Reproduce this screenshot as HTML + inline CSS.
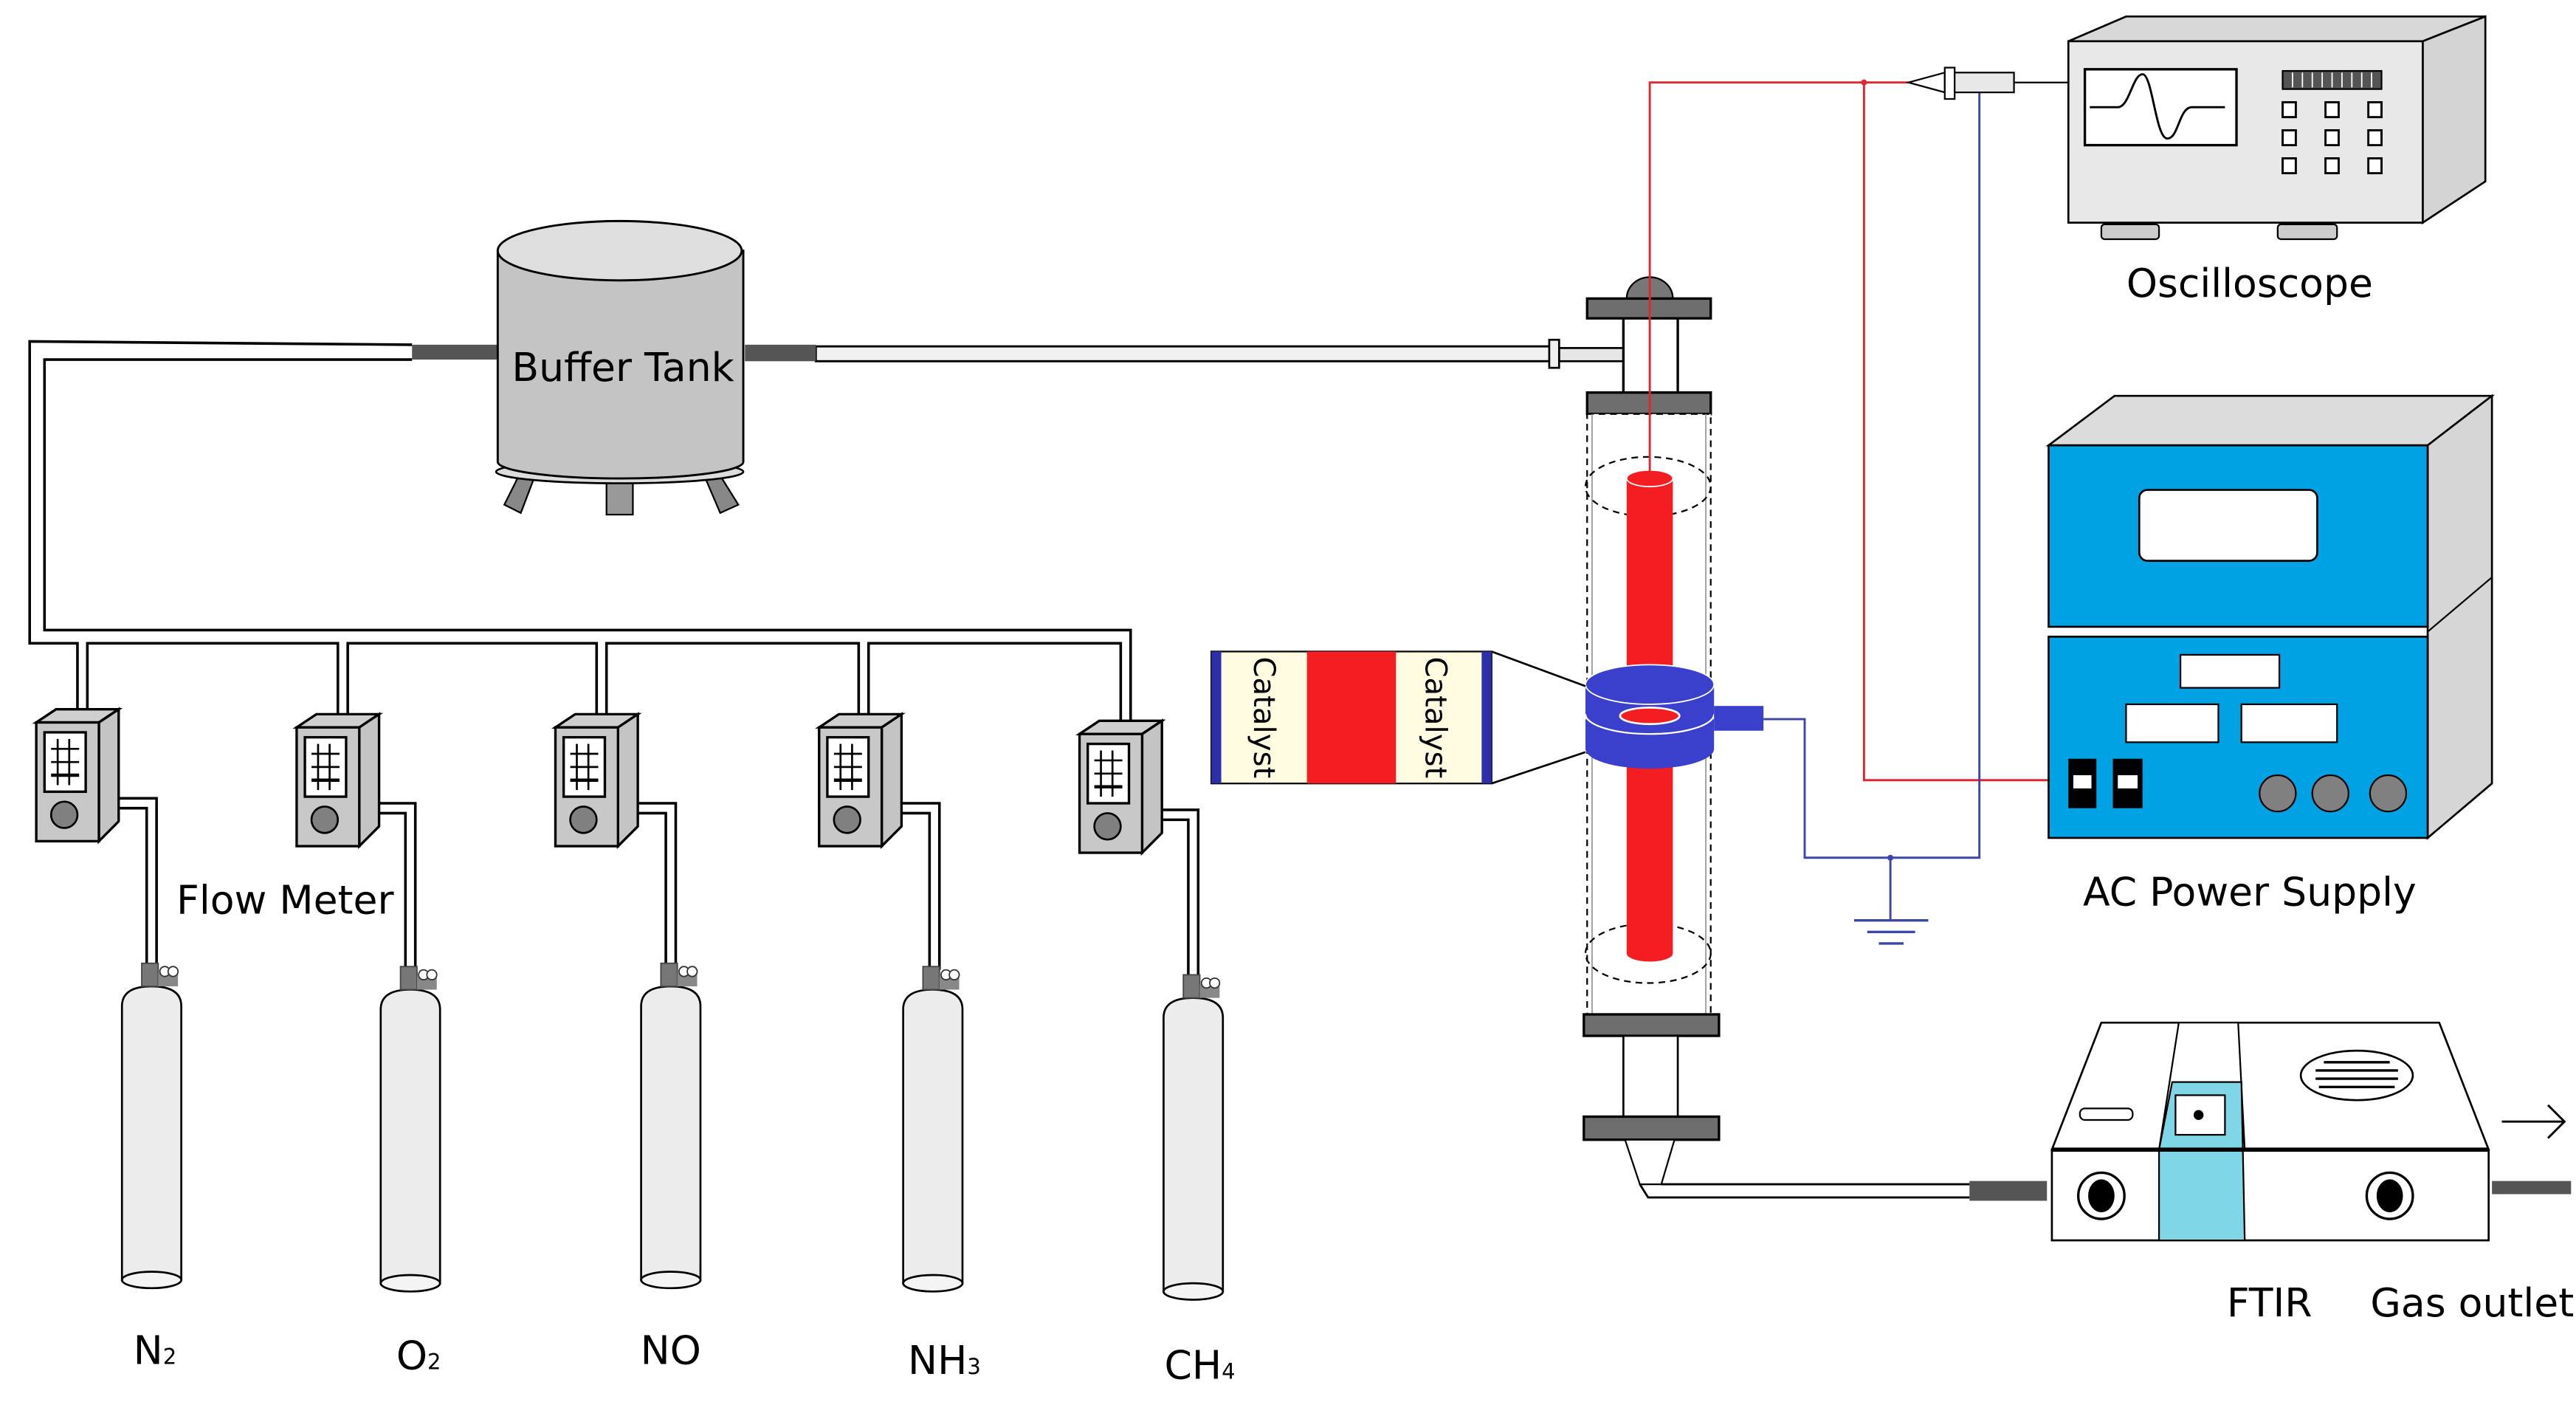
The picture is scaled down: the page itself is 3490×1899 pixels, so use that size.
<!DOCTYPE html>
<html><head><meta charset="utf-8"><style>html,body{margin:0;padding:0;background:#fff}svg{display:block}</style></head>
<body>
<svg width="3490" height="1899" viewBox="0 0 1563 850" preserveAspectRatio="none" xmlns="http://www.w3.org/2000/svg" font-family="'DejaVu Sans','Liberation Sans',sans-serif">
<defs>
<g id="fm">
  <polygon points="0,8 12,0 50,0 38,8" fill="#cfcfcf" stroke="#000" stroke-width="1.5"/>
  <polygon points="38,8 50,0 50,68 38,80" fill="#c4c4c4" stroke="#000" stroke-width="1.5"/>
  <rect x="0" y="8" width="38" height="72" fill="#c8c8c8" stroke="#000" stroke-width="1.5"/>
  <rect x="5" y="14" width="25" height="36" fill="#fff" stroke="#000" stroke-width="1.5"/>
  <line x1="13" y1="18" x2="13" y2="46" stroke="#000" stroke-width="1.2"/>
  <line x1="20" y1="18" x2="20" y2="46" stroke="#000" stroke-width="1.2"/>
  <line x1="9" y1="24" x2="26" y2="24" stroke="#000" stroke-width="1.2"/>
  <line x1="9" y1="32" x2="26" y2="32" stroke="#000" stroke-width="1.2"/>
  <line x1="9" y1="40" x2="26" y2="40" stroke="#000" stroke-width="2"/>
  <circle cx="17" cy="64" r="8" fill="#808080" stroke="#000" stroke-width="1.2"/>
</g>
<g id="cyl">
  <path d="M0,12 Q0,0 18,0 Q36,0 36,12 L36,178 L0,178 Z" fill="#ececec" stroke="#000" stroke-width="1.2"/>
  <ellipse cx="18" cy="178" rx="18" ry="5" fill="#f4f4f4" stroke="#000" stroke-width="1.2"/>
  <rect x="12" y="-14" width="10" height="14" fill="#777" stroke="#444" stroke-width="0.8"/>
  <rect x="22" y="-8" width="12" height="8" fill="#888"/>
  <circle cx="26" cy="-9" r="3" fill="#fff" stroke="#333" stroke-width="0.8"/>
  <circle cx="31" cy="-9" r="3" fill="#fff" stroke="#333" stroke-width="0.8"/>
</g>
</defs>

<!-- gas lines -->
<g fill="none" stroke="#000" stroke-width="1.6">
  <polyline points="250,209 18,207 18,390 47,390 47,432"/>
  <polyline points="250,218 27,218 27,382 686,382 686,440"/>
  <polyline points="53,432 53,390 205,390 205,435"/>
  <polyline points="211,435 211,390 362,390 362,435"/>
  <polyline points="368,435 368,390 521,390 521,435"/>
  <polyline points="527,435 527,390 680,390 680,440"/>
  <polyline points="72,484 95,484 95,586"/>
  <polyline points="72,490 89,490 89,586"/>
  <polyline points="230,487 252,487 252,588"/>
  <polyline points="230,493 246,493 246,588"/>
  <polyline points="387,487 410,487 410,586"/>
  <polyline points="387,493 404,493 404,586"/>
  <polyline points="547,487 570,487 570,588"/>
  <polyline points="547,493 564,493 564,588"/>
  <polyline points="705,491 727,491 727,591"/>
  <polyline points="705,497 721,497 721,591"/>
</g>
<use href="#fm" x="22" y="430"/>
<use href="#fm" x="180" y="433"/>
<use href="#fm" x="337" y="433"/>
<use href="#fm" x="497" y="433"/>
<use href="#fm" x="655" y="437"/>
<use href="#cyl" x="74" y="598"/>
<use href="#cyl" x="231" y="600"/>
<use href="#cyl" x="389" y="598"/>
<use href="#cyl" x="548" y="600"/>
<use href="#cyl" x="706" y="605"/>

<g font-size="24" fill="#000" text-anchor="middle">
  <text x="173" y="554">Flow Meter</text>
  <text x="94" y="827">N<tspan font-size="13">2</tspan></text>
  <text x="254" y="830">O<tspan font-size="13">2</tspan></text>
  <text x="407" y="827">NO</text>
  <text x="573" y="833">NH<tspan font-size="13">3</tspan></text>
  <text x="728" y="836">CH<tspan font-size="13">4</tspan></text>
</g>

<!-- buffer tank -->
<rect x="495" y="210" width="447" height="9" fill="#f0f0f0" stroke="#000" stroke-width="1.3"/>
<rect x="946" y="211" width="40" height="8" fill="#e6e6e6" stroke="#000" stroke-width="1.2"/>
<rect x="940" y="206" width="6" height="17" fill="#f0f0f0" stroke="#000" stroke-width="1.2"/>
<rect x="250" y="209" width="52" height="9" fill="#555"/>
<rect x="452" y="209" width="43" height="10" fill="#555"/>
<polygon points="314,290 324,290 316,311 306,306" fill="#888" stroke="#000"/>
<rect x="368" y="292" width="16" height="20" fill="#999" stroke="#000"/>
<polygon points="428,290 438,290 448,306 437,311" fill="#888" stroke="#000"/>
<ellipse cx="376" cy="286" rx="75" ry="7" fill="#ddd" stroke="#000" stroke-width="1.2"/>
<path d="M302,152 L302,280 A74,10 0 0 0 451,280 L451,152 Z" fill="#c4c4c4" stroke="#000" stroke-width="1.3"/>
<ellipse cx="376" cy="152" rx="74" ry="18" fill="#dedede" stroke="#000" stroke-width="1.3"/>
<text x="378" y="231" font-size="24" text-anchor="middle">Buffer Tank</text>

<!-- reactor -->
<path d="M987,181 A14,13 0 0 1 1015,181 Z" fill="#777" stroke="#000"/>
<rect x="963" y="181" width="75" height="12" fill="#6e6e6e" stroke="#000" stroke-width="1.5"/>
<rect x="985" y="193" width="33" height="45" fill="#fff" stroke="#000" stroke-width="1.5"/>
<rect x="963" y="238" width="75" height="13" fill="#6e6e6e" stroke="#000" stroke-width="1.5"/>
<rect x="963" y="251" width="75" height="364" fill="#fff" stroke="#000" stroke-width="1" stroke-dasharray="4,3"/>
<line x1="966" y1="251" x2="966" y2="615" stroke="#999" stroke-width="0.8"/>
<line x1="1035" y1="251" x2="1035" y2="615" stroke="#999" stroke-width="0.8"/>
<ellipse cx="1000" cy="295" rx="38" ry="18" fill="none" stroke="#000" stroke-dasharray="4,3"/>
<ellipse cx="1000" cy="578" rx="38" ry="18" fill="none" stroke="#000" stroke-dasharray="4,3"/>
<rect x="987" y="290" width="28" height="288" fill="#f31d22"/>
<ellipse cx="1001" cy="290" rx="14" ry="5" fill="#f31d22" stroke="#fff" stroke-width="0.8"/>
<ellipse cx="1001" cy="578" rx="14" ry="5" fill="#f31d22"/>
<!-- blue ring (two bands) -->
<path d="M962,436 L962,454 A39,12 0 0 0 1040,454 L1040,436 Z" fill="#3a3fcc"/>
<path d="M962,415 L962,433 A39,12 0 0 0 1040,433 L1040,415 Z" fill="#3a3fcc"/>
<path d="M962,433 A39,12 0 0 0 1040,433" fill="none" stroke="#fff" stroke-width="1"/>
<ellipse cx="1001" cy="415" rx="39" ry="12" fill="#3a3fcc" stroke="#fff" stroke-width="0.8"/>
<ellipse cx="1001" cy="434" rx="18" ry="5" fill="#f31d22" stroke="#fff" stroke-width="1.2"/>
<rect x="1040" y="428" width="30" height="15" fill="#3a3fcc"/>
<rect x="961" y="615" width="82" height="13" fill="#6e6e6e" stroke="#000" stroke-width="1.5"/>
<rect x="985" y="628" width="33" height="49" fill="#fff" stroke="#000" stroke-width="1.2"/>
<rect x="961" y="677" width="82" height="14" fill="#6e6e6e" stroke="#000" stroke-width="1.5"/>
<polygon points="986,691 1016,691 1008,718 995,718" fill="#fff" stroke="#000"/>
<polyline points="995,718 1000,726 1195,726" fill="none" stroke="#000" stroke-width="1.3"/>
<line x1="1008" y1="718" x2="1195" y2="718" stroke="#000" stroke-width="1.3"/>
<rect x="1195" y="716" width="47" height="12" fill="#555"/>

<!-- catalyst -->
<line x1="905" y1="395" x2="962" y2="416" stroke="#000" stroke-width="1.2"/>
<line x1="905" y1="475" x2="962" y2="456" stroke="#000" stroke-width="1.2"/>
<rect x="735" y="395" width="170" height="80" fill="#fffbe0" stroke="#000" stroke-width="1"/>
<rect x="735" y="395" width="6" height="80" fill="#2c2fa8"/>
<rect x="899" y="395" width="6" height="80" fill="#2c2fa8"/>
<rect x="793" y="395" width="54" height="80" fill="#f31d22"/>
<text transform="translate(761,435) rotate(90)" font-size="18" text-anchor="middle">Catalyst</text>
<text transform="translate(865,435) rotate(90)" font-size="18" text-anchor="middle">Catalyst</text>

<!-- wires -->
<polyline points="1001,290 1001,50 1160,50" fill="none" stroke="#e0262e" stroke-width="1.3"/>
<polyline points="1131,50 1131,473 1243,473" fill="none" stroke="#e0262e" stroke-width="1.3"/>
<circle cx="1131" cy="50" r="1.8" fill="#e0262e"/>
<polyline points="1201,55 1201,520 1095,520 1095,436 1070,436" fill="none" stroke="#3b46a8" stroke-width="1.3"/>
<line x1="1147" y1="520" x2="1147" y2="558" stroke="#3b46a8" stroke-width="1.3"/>
<circle cx="1147" cy="520" r="1.8" fill="#3b46a8"/>
<line x1="1125" y1="558" x2="1170" y2="558" stroke="#3b46a8" stroke-width="1.5"/>
<line x1="1133" y1="565" x2="1162" y2="565" stroke="#3b46a8" stroke-width="1.5"/>
<line x1="1140" y1="572" x2="1155" y2="572" stroke="#3b46a8" stroke-width="1.5"/>
<!-- probe -->
<polygon points="1158,50 1180,44 1180,56" fill="#fff" stroke="#000"/>
<rect x="1180" y="41" width="6" height="19" fill="#fff" stroke="#000"/>
<rect x="1186" y="44" width="36" height="12" fill="#e8e8e8" stroke="#000"/>
<line x1="1222" y1="50" x2="1256" y2="50" stroke="#000"/>

<!-- oscilloscope -->
<polygon points="1255,25 1290,10 1508,10 1470,25" fill="#d8d8d8" stroke="#000" stroke-width="1.2"/>
<polygon points="1470,25 1508,10 1508,110 1470,135" fill="#d4d4d4" stroke="#000" stroke-width="1.2"/>
<rect x="1255" y="25" width="215" height="110" fill="#e8e8e8" stroke="#000" stroke-width="1.2"/>
<rect x="1265" y="42" width="92" height="46" fill="#fff" stroke="#000" stroke-width="1.5"/>
<path d="M1268,65 L1285,65 C1292,65 1294,45 1300,45 C1306,45 1308,84 1315,84 C1322,84 1322,65 1330,65 L1350,65" fill="none" stroke="#000" stroke-width="1.3"/>
<rect x="1385" y="43" width="60" height="11" fill="#555" stroke="#000"/>
<g stroke="#fff" stroke-width="0.8"><line x1="1391" y1="44" x2="1391" y2="53"/><line x1="1397" y1="44" x2="1397" y2="53"/><line x1="1403" y1="44" x2="1403" y2="53"/><line x1="1409" y1="44" x2="1409" y2="53"/><line x1="1415" y1="44" x2="1415" y2="53"/><line x1="1421" y1="44" x2="1421" y2="53"/><line x1="1427" y1="44" x2="1427" y2="53"/><line x1="1433" y1="44" x2="1433" y2="53"/><line x1="1439" y1="44" x2="1439" y2="53"/></g>
<g fill="#fff" stroke="#000" stroke-width="1.3">
<rect x="1385" y="62" width="8" height="9"/><rect x="1411" y="62" width="8" height="9"/><rect x="1437" y="62" width="8" height="9"/>
<rect x="1385" y="79" width="8" height="9"/><rect x="1411" y="79" width="8" height="9"/><rect x="1437" y="79" width="8" height="9"/>
<rect x="1385" y="96" width="8" height="9"/><rect x="1411" y="96" width="8" height="9"/><rect x="1437" y="96" width="8" height="9"/>
</g>
<rect x="1275" y="136" width="35" height="9" rx="2" fill="#ccc" stroke="#000"/>
<rect x="1382" y="136" width="36" height="9" rx="2" fill="#ccc" stroke="#000"/>
<text x="1365" y="180" font-size="24" text-anchor="middle">Oscilloscope</text>

<!-- AC power supply -->
<polygon points="1243,270 1283,240 1512,240 1473,270" fill="#dcdcdc" stroke="#000" stroke-width="1.2"/>
<polygon points="1473,270 1512,240 1512,475 1473,508" fill="#d6d6d6" stroke="#000" stroke-width="1.2"/>
<line x1="1473" y1="383" x2="1512" y2="350" stroke="#000"/>
<rect x="1243" y="270" width="230" height="110" fill="#00a2e4" stroke="#000" stroke-width="1.2"/>
<rect x="1243" y="386" width="230" height="122" fill="#00a2e4" stroke="#000" stroke-width="1.2"/>
<rect x="1298" y="297" width="108" height="43" rx="5" fill="#fff" stroke="#000" stroke-width="1.2"/>
<rect x="1323" y="397" width="60" height="20" fill="#fff" stroke="#000"/>
<rect x="1290" y="427" width="56" height="23" fill="#fff" stroke="#000"/>
<rect x="1360" y="427" width="58" height="23" fill="#fff" stroke="#000"/>
<rect x="1255" y="460" width="17" height="30" fill="#000"/>
<rect x="1282" y="460" width="18" height="30" fill="#000"/>
<rect x="1258" y="470" width="11" height="8" fill="#fff"/>
<rect x="1285" y="470" width="12" height="8" fill="#fff"/>
<circle cx="1382" cy="481" r="11" fill="#808080" stroke="#000"/>
<circle cx="1414" cy="481" r="11" fill="#808080" stroke="#000"/>
<circle cx="1449" cy="481" r="11" fill="#808080" stroke="#000"/>
<text x="1365" y="549" font-size="24" text-anchor="middle">AC Power Supply</text>

<!-- FTIR -->
<polygon points="1245,697 1275,620 1480,620 1510,697" fill="#fff" stroke="#000" stroke-width="1.2"/>
<rect x="1245" y="697" width="265" height="55" fill="#fff" stroke="#000" stroke-width="1.2"/>
<polygon points="1322,620 1358,620 1362,697 1310,697" fill="#fff" stroke="#000"/>
<polygon points="1318,656 1360,656 1362,752 1310,752 1310,697" fill="#7fd6e6" stroke="#000"/>
<line x1="1245" y1="697" x2="1510" y2="697" stroke="#000" stroke-width="2.5"/>
<rect x="1320" y="664" width="30" height="24" fill="#fff" stroke="#000"/>
<circle cx="1334" cy="676" r="3" fill="#000"/>
<ellipse cx="1430" cy="652" rx="34" ry="15" fill="#fff" stroke="#000" stroke-width="1.2"/>
<g stroke="#000" stroke-width="1.5"><line x1="1410" y1="644" x2="1450" y2="644"/><line x1="1405" y1="649" x2="1455" y2="649"/><line x1="1405" y1="654" x2="1455" y2="654"/><line x1="1407" y1="659" x2="1453" y2="659"/></g>
<rect x="1262" y="672" width="32" height="7" rx="3" fill="#fff" stroke="#000"/>
<circle cx="1275" cy="725" r="14" fill="#fff" stroke="#000" stroke-width="1.5"/>
<ellipse cx="1275" cy="725" rx="8" ry="10" fill="#000"/>
<circle cx="1450" cy="725" r="14" fill="#fff" stroke="#000" stroke-width="1.5"/>
<ellipse cx="1450" cy="725" rx="8" ry="10" fill="#000"/>
<rect x="1512" y="716" width="48" height="8" fill="#555"/>
<line x1="1518" y1="680" x2="1556" y2="680" stroke="#000" stroke-width="1.3"/>
<polyline points="1546,670 1556,680 1546,690" fill="none" stroke="#000" stroke-width="1.3"/>
<text x="1377" y="798" font-size="24" text-anchor="middle">FTIR</text>
<text x="1500" y="798" font-size="24" text-anchor="middle">Gas outlet</text>
</svg>
</body></html>
